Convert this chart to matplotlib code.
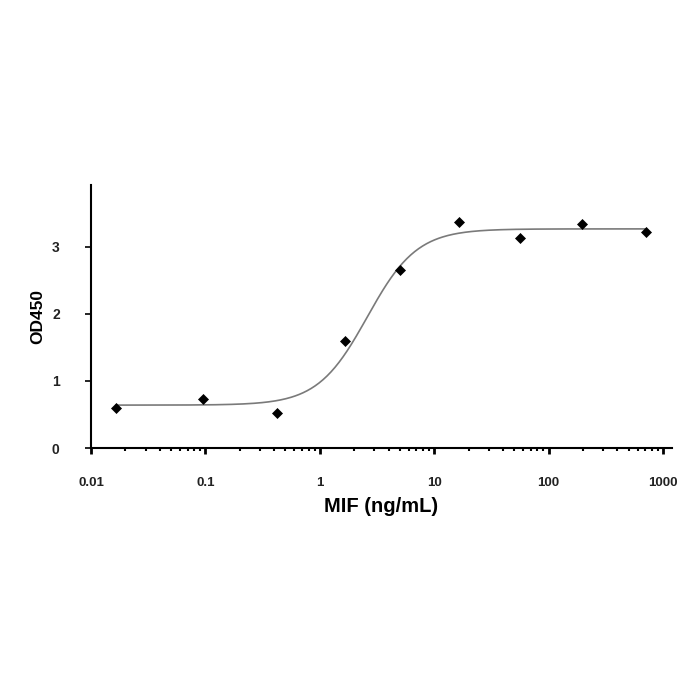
import numpy as np
import matplotlib
matplotlib.use("Agg")
import matplotlib.pyplot as plt
from matplotlib.ticker import LogLocator, FixedLocator, FixedFormatter, NullFormatter

# Data
conc = [0.0165, 0.095, 0.42, 1.66, 5.0, 16.5, 56.0, 196.0, 708.0]
od450 = [0.60, 0.73, 0.52, 1.60, 2.66, 3.37, 3.13, 3.34, 3.22]

# 4-parameter logistic fit parameters
fit_bottom = 0.64
fit_top = 3.27
fit_ec50 = 2.6
fit_hill = 2.0

x_ticks = [0.01, 0.1, 1, 10, 100, 1000]
x_tick_labels = ["0.01", "0.1", "1", "10", "100", "1000"]
y_ticks = [0, 1, 2, 3]
y_tick_labels = ["0", "1", "2", "3"]

plt.rcParams['font.family'] = ['Liberation Sans', 'DejaVu Sans']

fig = plt.figure(figsize=(7, 7), dpi=100)
ax = fig.add_axes([0.13, 0.36, 0.83, 0.3757])

xs = np.logspace(np.log10(conc[0]), np.log10(conc[-1]), 400)
ys = fit_top + (fit_bottom - fit_top) / (1 + (xs / fit_ec50) ** fit_hill)
ax.plot(xs, ys, color='#7a7a7a', lw=1.2, zorder=2)
ax.plot(conc, od450, linestyle='none', marker='D', ms=5.2, color='black',
        mec='black', mew=0.5, zorder=3)

ax.set_xscale('log')
ax.set_xlim(0.01, 1200)
ax.set_ylim(0, 3.925)

ax.xaxis.set_major_locator(FixedLocator(x_ticks))
ax.xaxis.set_major_formatter(FixedFormatter(x_tick_labels))
ax.xaxis.set_minor_locator(LogLocator(base=10, subs=np.arange(2, 10), numticks=20))
ax.xaxis.set_minor_formatter(NullFormatter())
ax.yaxis.set_major_locator(FixedLocator(y_ticks))
ax.yaxis.set_major_formatter(FixedFormatter(y_tick_labels))

for side in ['top', 'right']:
    ax.spines[side].set_visible(False)
for side in ['left', 'bottom']:
    ax.spines[side].set_linewidth(1.5)
    ax.spines[side].set_color('black')

ax.tick_params(axis='x', which='major', direction='out', length=4, width=2,
               pad=17, labelsize=9.5)
ax.tick_params(axis='x', which='minor', direction='out', length=2.5, width=1.5)
ax.tick_params(axis='y', which='major', direction='out', length=4.5, width=1.2,
               pad=18, labelsize=10)
for lab in ax.get_xticklabels() + ax.get_yticklabels():
    lab.set_fontweight('bold')
    lab.set_color('#222222')

ax.set_xlabel('MIF (ng/mL)', fontsize=14.5, fontweight='bold', labelpad=6)
ax.set_ylabel('OD450', fontsize=12.5, fontweight='bold', labelpad=5)

fig.savefig('out.png', dpi=100, facecolor='white')
